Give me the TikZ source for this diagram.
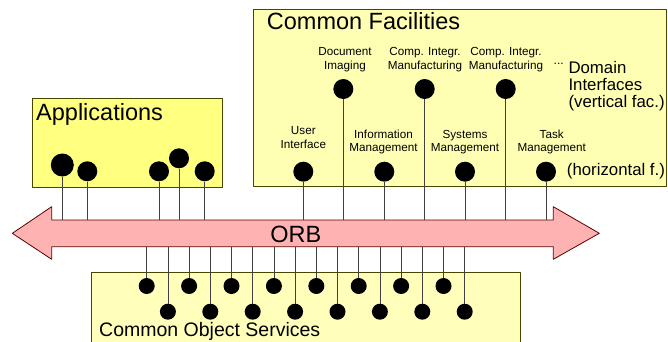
\documentclass[tikz,border=0pt]{standalone}
\usepackage{fontspec}
\setmainfont{Liberation Sans}
\usepackage{tikz}
\definecolor{appyellow}{RGB}{255,255,128}
\definecolor{facyellow}{RGB}{255,255,180}
\definecolor{cosyellow}{RGB}{255,255,187}
\definecolor{boxolive}{RGB}{70,70,0}
\definecolor{orbpink}{RGB}{255,178,178}
\definecolor{orbred}{RGB}{90,0,0}
\tikzset{
  box/.style={draw=boxolive, line width=0.8pt},
  dot/.style={circle, fill=black, inner sep=0pt, minimum size=#1},
  dot/.default=20pt,
  wire/.style={draw=black!75, line width=0.8pt},
  big/.style={font=\fontsize{23.5}{28}\selectfont, inner sep=0pt},
  small/.style={font=\fontsize{11.7}{13.4}\selectfont, align=center, inner sep=0pt, anchor=base},
  mid/.style={font=\fontsize{16.8}{17}\selectfont, align=left, inner sep=0pt, anchor=base west}
}

\begin{document}
\begin{tikzpicture}[x=1pt, y=-1pt, line join=round] % 1単位=1pt、y軸は下向き
  \clip (0,0) rectangle (668,342); % 描画範囲

  \draw[box, fill=facyellow] (253.3,9.3) rectangle (666.7,186.5); % Common Facilities
  \draw[box, fill=appyellow] (32,98) rectangle (222,187); % Applications
  \draw[box, fill=cosyellow] (91.7,272.3) rectangle (520.3,360); % 下端は切れている

  % ORBの両矢印
  \draw[draw=orbred, fill=orbpink, line width=0.8pt] (12.3,233.3) -- (51.7,206.7) -- (51.7,220) -- (553.3,220)
    -- (553.3,206.7) -- (599.3,233.3) -- (553.3,259.3) -- (553.3,246.7) -- (51.7,246.7) -- (51.7,259.3) -- cycle;
  \coordinate (orbtop) at (0,220); % 矢印の上辺
  \coordinate (orbbot) at (0,246.7); % 矢印の下辺
  \node[big, anchor=base] (orb) at (295.8,242.3) {ORB};

  \node[big, anchor=base west] (fac) at (266.7,29.3) {Common Facilities};
  \node[big, anchor=base west] (app) at (36,120.7) {Applications};
  \node[font=\fontsize{19.5}{23}\selectfont, inner sep=0pt, anchor=base west] (cos) at (99,336) {Common Object Services};

  % Applications
  \node[dot=23pt] (a1) at (62.3,165) {};
  \foreach \n/\x/\y in {2/87.3/171.3, 3/159/171.3, 4/179/158.3, 5/204.7/171.3}
    \node[dot] (a\n) at (\x,\y) {};
  \foreach \n in {1,...,5}
    \draw[wire] (a\n) -- (a\n |- orbtop);

  % vertical facilities (baseは最終行)
  \foreach \n/\x in {1/343.3, 2/424.7, 3/505.7}
    \node[dot] (v\n) at (\x,89) {};
  \node[small] (vl1) at (345,69.4) {Document\\Imaging};
  \node[small] (vl2) at (425,69.4) {Comp. Integr.\\Manufacturing};
  \node[small] (vl3) at (506,69.4) {Comp. Integr.\\Manufacturing};
  \node[font=\fontsize{12}{14}\selectfont, inner sep=0pt, anchor=base west] (more) at (553.5,64.8) {...};
  \node[mid] (dom) at (568.3,107) {Domain\\Interfaces\\(vertical fac.)};

  % horizontal facilities
  \foreach \n/\x in {1/303.3, 2/384.3, 3/465, 4/546}
    \node[dot] (h\n) at (\x,171.7) {};
  \node[small] (hl1) at (303.3,148) {User\\Interface};
  \node[small] (hl2) at (383.5,151.5) {Information\\Management};
  \node[small] (hl3) at (465,151.5) {Systems\\Management};
  \node[small] (hl4) at (551.7,151.5) {Task\\Management};
  \node[mid] (hor) at (566.7,175) {(horizontal f.)};

  \foreach \n in {1,2,3}
    \draw[wire] (v\n) -- (v\n |- orbtop);
  \foreach \n in {1,...,4}
    \draw[wire] (h\n) -- (h\n |- orbtop);

  % Common Object Services、上下2段に交互
  \foreach \i in {1,...,16} {
    \pgfmathsetmacro{\cx}{146.7+21.2*(\i-1)}
    \pgfmathsetmacro{\cy}{mod(\i,2)==1 ? 286 : 311.7}
    \node[dot=16pt] (c\i) at (\cx,\cy) {};
    \draw[wire] (c\i) -- (c\i |- orbbot);
  }
\end{tikzpicture}
\end{document}
